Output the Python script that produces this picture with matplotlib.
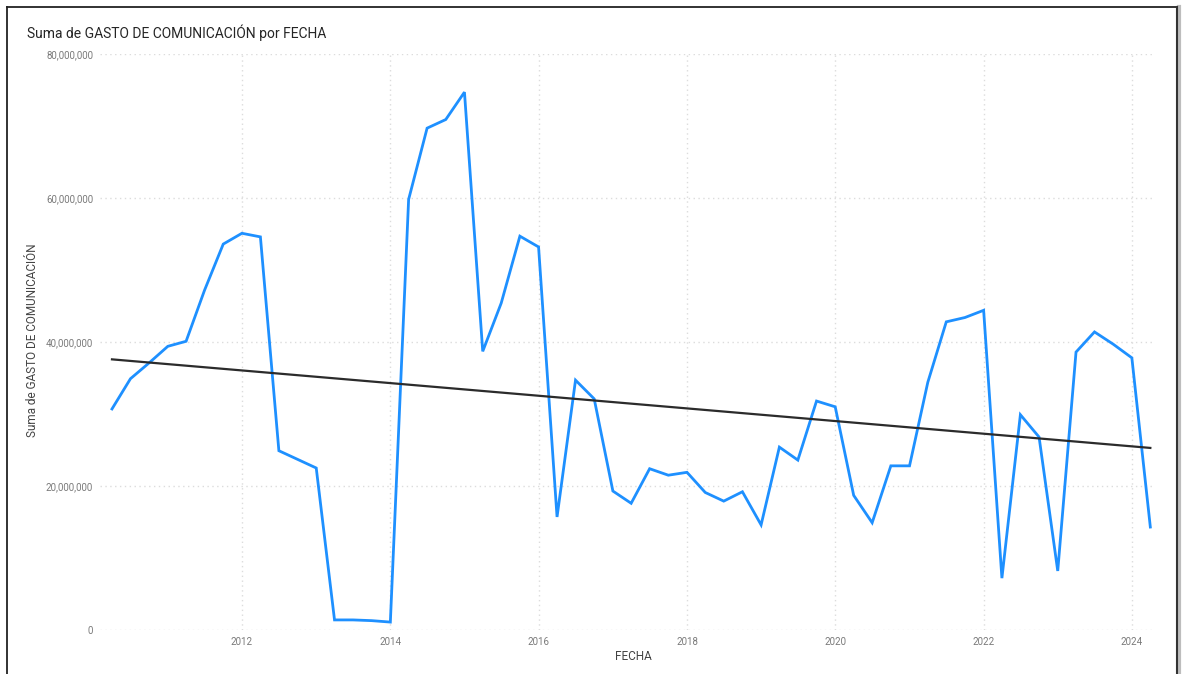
import numpy as np
import pandas as pd
import matplotlib
matplotlib.use('Agg')
import matplotlib.pyplot as plt
import matplotlib.dates as mdates
from matplotlib.lines import Line2D

plt.rcParams['font.family'] = ['Roboto', 'DejaVu Sans']

# quarterly totals (millions), first quarter = Apr 2010
start_date = '2010-04-01'
gasto_millones = [
    30.7, 34.9, 37.1, 39.4, 40.1, 47.2, 53.6, 55.1, 54.6, 24.9,
    23.7, 22.5, 1.4, 1.4, 1.3, 1.1, 59.8, 69.7, 70.9, 74.7,
    38.7, 45.4, 54.7, 53.2, 15.7, 34.7, 32.1, 19.3, 17.6, 22.4,
    21.5, 21.9, 19.1, 17.9, 19.2, 14.6, 25.4, 23.6, 31.8, 31.0,
    18.7, 14.9, 22.8, 22.8, 34.4, 42.8, 43.4, 44.4, 7.2, 29.9,
    26.8, 8.2, 38.6, 41.4, 39.7, 37.8, 14.3,
]
year_ticks = [2012, 2014, 2016, 2018, 2020, 2022, 2024]
y_ticks = [0, 20_000_000, 40_000_000, 60_000_000, 80_000_000]

fechas = pd.date_range(start_date, periods=len(gasto_millones), freq='QS')
gasto = np.array(gasto_millones) * 1e6

W, H = 1182, 674
fig = plt.figure(figsize=(W / 100, H / 100), dpi=100)
fig.patch.set_facecolor('white')
ax = fig.add_axes([100 / W, 1 - 630 / H, (1155 - 100) / W, (630 - 54) / H])

xnum = mdates.date2num(fechas)
ax.plot(xnum, gasto, color='#1E90FF', lw=2.0, solid_joinstyle='miter', zorder=3)

# linear trend line
coef = np.polyfit(xnum, gasto, 1)
ax.plot([xnum[0], xnum[-1]], np.polyval(coef, [xnum[0], xnum[-1]]),
        color='#2b2b2b', lw=1.6, zorder=4)

ax.set_ylim(0, 80_000_000)
ax.set_xlim(mdates.date2num(pd.Timestamp('2010-02-01')),
            mdates.date2num(pd.Timestamp('2024-04-24')))
ax.set_yticks(y_ticks)
ax.set_yticklabels([f'{v:,}' for v in y_ticks])
ax.set_xticks([mdates.date2num(pd.Timestamp(f'{y}-01-01')) for y in year_ticks])
ax.set_xticklabels([str(y) for y in year_ticks])

for s in ax.spines.values():
    s.set_visible(False)
ax.tick_params(length=0, labelsize=7, labelcolor='#7a7a7a', pad=5)
ax.grid(True, color='#dcdcdc', linestyle=(0, (1, 2.5)), lw=1.0)
ax.set_axisbelow(True)

fig.text(27 / W, 1 - 33 / H, 'Suma de GASTO DE COMUNICACIÓN por FECHA',
         fontsize=10, color='#252525', va='center', ha='left')
fig.text(33 / W, 1 - 340 / H, 'Suma de GASTO DE COMUNICACIÓN', rotation=90,
         fontsize=8.5, color='#444444', va='center', ha='center')
fig.text(633 / W, 1 - 657 / H, 'FECHA', fontsize=8.5, color='#444444',
         va='center', ha='center')

# card frame
fig.add_artist(Line2D([7 / W, 7 / W], [0, 1 - 7 / H], color='#222222', lw=1.3,
                      transform=fig.transFigure))
fig.add_artist(Line2D([7 / W, 1177 / W], [1 - 7 / H, 1 - 7 / H], color='#222222',
                      lw=1.3, transform=fig.transFigure))
fig.add_artist(Line2D([1179 / W, 1179 / W], [0, 1 - 7 / H], color='#bdbdbd', lw=3,
                      transform=fig.transFigure))
fig.add_artist(Line2D([1177 / W, 1177 / W], [0, 1 - 7 / H], color='#333333', lw=1.5,
                      transform=fig.transFigure))

fig.savefig('out.png', dpi=100)
